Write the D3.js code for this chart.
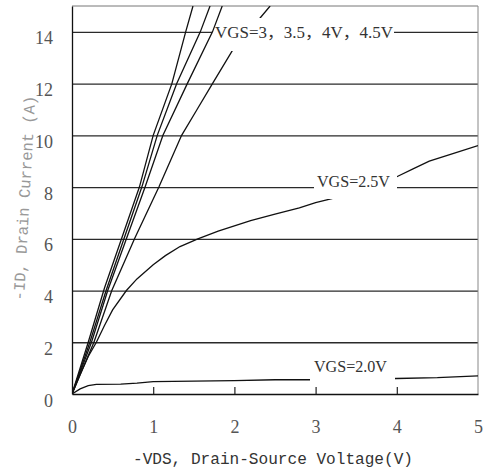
<!DOCTYPE html>
<html>
<head>
<meta charset="utf-8">
<script src="https://cdn.jsdelivr.net/npm/d3@7"></script>
<style>
html,body{margin:0;padding:0;background:#fff;}
svg{display:block;}
</style>
</head>
<body>
<svg id="chart" width="485" height="472"></svg>
<script>
// ---- data ----
const xTicks = [0, 1, 2, 3, 4, 5];
const yTicks = [0, 2, 4, 6, 8, 10, 12, 14];

const vds_20 = [0, 0.1, 0.2, 0.3, 0.6, 0.8, 1.0, 1.5, 2.0, 2.5, 3.0, 3.5, 4.0, 4.5, 5.0];
const id_20  = [0, 0.2, 0.32, 0.37, 0.38, 0.42, 0.48, 0.5, 0.52, 0.55, 0.55, 0.57, 0.6, 0.63, 0.7];

const vds_25 = [0, 0.1, 0.2, 0.3, 0.4, 0.5, 0.67, 0.8, 1.0, 1.15, 1.33, 1.55, 1.8, 2.0, 2.2, 2.5, 2.8, 3.0, 3.2, 3.5, 4.0, 4.2, 4.4, 4.7, 5.0];
const id_25  = [0, 0.75, 1.45, 2.0, 2.65, 3.25, 4.0, 4.45, 5.0, 5.35, 5.7, 6.0, 6.3, 6.5, 6.7, 6.95, 7.2, 7.4, 7.55, 7.85, 8.4, 8.7, 9.0, 9.3, 9.6];

const vds_30 = [0, 0.27, 0.49, 0.77, 1.07, 1.35, 1.54, 1.73, 1.98, 2.28, 2.44];
const id_30  = [0, 2, 4, 6, 8, 10, 11, 12, 13.3, 14.4, 15];

const vds_35 = [0, 0.24, 0.44, 0.67, 0.90, 1.12, 1.42, 1.73, 1.85];
const id_35  = [0, 2, 4, 6, 8, 10, 12, 14, 15];

const vds_40 = [0, 0.22, 0.42, 0.64, 0.86, 1.05, 1.29, 1.58, 1.70];
const id_40  = [0, 2, 4, 6, 8, 10, 12, 14, 15];

const vds_45 = [0, 0.2, 0.4, 0.61, 0.83, 1.0, 1.23, 1.40, 1.49];
const id_45  = [0, 2.0, 4.1, 6, 8, 10, 12, 14, 15];

const labelTexts = ["VGS=3，3.5，4V，4.5V", "VGS=2.5V", "VGS=2.0V"];
const xTitle = "-VDS, Drain-Source Voltage(V)";
const yTitle = "-ID, Drain Current (A)";

// ---- layout ----
const svg = d3.select("#chart");
const x = d3.scaleLinear().domain([0, 5]).range([72, 478]);
const y = d3.scaleLinear().domain([0, 15]).range([394, 6]);

const zip = (a, b) => a.map((v, i) => [v, b[i]]);
const line = d3.line().x(d => x(d[0])).y(d => y(d[1]));

svg.append("defs").append("clipPath").attr("id", "plot")
  .append("rect").attr("x", 72).attr("y", 6).attr("width", 406).attr("height", 388);

// gridlines
svg.append("g")
  .attr("transform", "translate(72,0)")
  .call(d3.axisLeft(y).tickValues(yTicks.filter(v => v > 0)).tickSize(-406).tickFormat(""))
  .call(g => g.select(".domain").remove())
  .call(g => g.selectAll("line").attr("stroke", "#2a2a2a").attr("stroke-width", 1.3));

// top and right frame
svg.append("line").attr("x1", 72).attr("x2", 478).attr("y1", y(15)).attr("y2", y(15))
  .attr("stroke", "#777").attr("stroke-width", 1);
svg.append("line").attr("x1", x(5)).attr("x2", x(5)).attr("y1", y(15)).attr("y2", y(0))
  .attr("stroke", "#888").attr("stroke-width", 1);

const curves = svg.append("g").attr("clip-path", "url(#plot)");
function drawCurve(g, vx, vy) {
  g.append("path").datum(zip(vx, vy)).attr("d", line)
    .attr("fill", "none").attr("stroke", "#111").attr("stroke-width", 1.3);
}
drawCurve(curves, vds_20, id_20);
drawCurve(curves, vds_25, id_25);
drawCurve(curves, vds_30, id_30);

// labels with white backgrounds
const labels = [
  {t: labelTexts[0], x0: 215, base: 38, w: 178, r: [212, 18, 182, 33]},
  {t: labelTexts[1], x0: 317, base: 187, w: 73, r: [314, 168, 83, 31]},
  {t: labelTexts[2], x0: 314, base: 372, w: 73, r: [310, 350, 85, 34]}
];
const lg = svg.append("g");
labels.forEach(l => {
  lg.append("rect").attr("x", l.r[0]).attr("y", l.r[1]).attr("width", l.r[2]).attr("height", l.r[3]).attr("fill", "#fff");
  lg.append("text").attr("x", l.x0).attr("y", l.base)
    .attr("font-family", "'Liberation Serif','Noto Sans CJK SC',serif").attr("font-size", 16)
    .attr("fill", "#333").attr("textLength", l.w).attr("lengthAdjust", "spacingAndGlyphs").text(l.t);
});

const curves2 = svg.append("g").attr("clip-path", "url(#plot)");
drawCurve(curves2, vds_35, id_35);
drawCurve(curves2, vds_40, id_40);
drawCurve(curves2, vds_45, id_45);

// x axis
const xa = svg.append("g").attr("transform", "translate(0,394)")
  .call(d3.axisBottom(x).tickValues(xTicks).tickFormat(d3.format("d")).tickSize(-7).tickPadding(0).tickSizeOuter(0));
xa.select(".domain").attr("stroke", "#111").attr("stroke-width", 1.3);
xa.selectAll(".tick line").attr("stroke", "#222").attr("stroke-width", 1.2)
  .attr("display", d => (d === 0 || d === 5) ? "none" : null);
xa.selectAll(".tick text").attr("y", 39).attr("dy", null)
  .attr("font-family", "'Liberation Serif',serif").attr("font-size", 18).attr("fill", "#555");

// y axis
const ya = svg.append("g").attr("transform", "translate(72,0)")
  .call(d3.axisLeft(y).tickValues(yTicks).tickFormat(d3.format("d")).tickSize(0).tickPadding(19).tickSizeOuter(0));
ya.select(".domain").attr("stroke", "#111").attr("stroke-width", 1.3);
ya.selectAll(".tick text").attr("dy", "0.95em").attr("y", -5)
  .attr("font-family", "'Liberation Serif',serif").attr("font-size", 18).attr("fill", "#555");

// titles
svg.append("text").attr("x", 133).attr("y", 464)
  .attr("font-family", "'Liberation Mono',monospace").attr("font-size", 16).attr("fill", "#333")
  .attr("textLength", 280).attr("lengthAdjust", "spacingAndGlyphs").text(xTitle);

svg.append("text").attr("transform", "translate(24,198) rotate(-86.8)")
  .attr("text-anchor", "middle").attr("dy", "0.35em")
  .attr("font-family", "'Liberation Mono',monospace").attr("font-size", 16).attr("fill", "#999")
  .attr("textLength", 205).attr("lengthAdjust", "spacingAndGlyphs").text(yTitle);
</script>
</body>
</html>
